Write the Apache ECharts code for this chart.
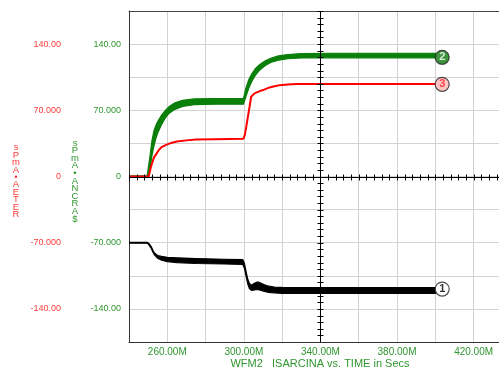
<!DOCTYPE html>
<html><head><meta charset="utf-8">
<script src="https://cdn.jsdelivr.net/npm/echarts@6/dist/echarts.min.js"></script>
<style>html,body{margin:0;padding:0;background:#fff}#c{width:499px;height:371px}</style>
</head><body><div id="c"></div>
<script>
// ---- axes ----
const xMin = 240, xMax = 438.5, xStep = 20;
const yMin = -175, yMax = 175, yStep = 35;
const xLabelValues = [260, 300, 340, 380, 420];
const yLabelValues = [-140, -70, 0, 70, 140];
const yLabelTexts = ['-140.00', '-70.000', '0', '70.000', '140.00'];
const crossX = 340, crossY = 0;
const xTitle = 'WFM2   ISARCINA vs. TIME in Secs';
const redTitle = ['s','P','m','A','\u2022','A','E','T','E','R'];
const greenTitle = ['s','P','m','A','\u2022','A','N','C','R','A','$'];

// ---- trace 2 (green): envelope ----
const greenT     = [240, 249.5, 251, 252, 253, 254, 255, 257, 259, 261, 264, 268, 274, 285, 299.8, 301, 302.5, 304, 306, 308, 311, 314, 318, 323, 330, 345, 370, 400];
const greenUpper = [0.6, 0.6, 22, 38, 48, 54, 58, 65, 70, 74, 78, 80.5, 82, 82.5, 82.5, 93, 102, 108, 114, 118, 122, 125, 127.5, 129, 130, 130.3, 130.3, 130.3];
const greenLower = [-0.6, -0.6, 8, 22, 32, 40, 46, 55, 62, 67, 71, 74, 76, 76.5, 76.5, 84, 93, 100, 107, 112, 117, 120.5, 123, 124.5, 125.3, 125.5, 125.5, 125.5];

// ---- trace 3 (red) ----
const redT = [240, 250.3, 251.5, 253, 255.6, 257, 259.4, 262, 265, 270, 275, 285, 299.8, 300.5, 301.2, 302.1, 303, 303.8, 305.6, 308, 310, 313.4, 316, 318.7, 323, 327.4, 340, 400];
const redV = [0, 0, 10.5, 20, 28, 31, 33.4, 35.5, 37, 38.2, 39, 39.5, 40, 44, 52, 63, 74, 84.3, 87.9, 90, 91.4, 94.2, 95.5, 96.6, 97.3, 97.7, 97.8, 97.8];

// ---- trace 1 (black): envelope ----
const blackT     = [240, 249.5, 250.5, 251.6, 252.5, 253.3, 255, 257, 260, 265, 275, 290, 299.4, 300.3, 301.2, 302.1, 302.9, 304, 305.5, 307.3, 309, 310.8, 313, 316, 320, 330, 360, 400];
const blackUpper = [-69.5, -69.5, -71, -74, -78, -81, -83.5, -84.5, -85.5, -86, -86.8, -87.5, -87.8, -92, -101, -109, -113, -115, -113, -111.5, -113, -114.5, -116, -117, -117.3, -117.5, -117.5, -117.5];
const blackLower = [-70.5, -70.5, -72.5, -76, -80, -83, -86.5, -88.5, -90, -91, -92, -92.5, -93, -97, -106, -114, -118.5, -120.5, -120, -119.5, -120.5, -121.5, -122.5, -123, -123.5, -123.5, -123.5, -123.5];

// ---- end markers ----
const markerLabels = ['1', '2', '3'];
const markerT = [403.6, 403.6, 403.6];
const markerV = [-119, 126, 97.5];

const FONT = 'Liberation Sans, Arial, sans-serif';
const GREEN = '#0a7f0a', RED = '#ff0000', GLABEL = '#2f962f', RLABEL = '#ff3a3a';

function bandSeries(T, up, lo, color, z) {
  return {
    type: 'custom', z: z, silent: true, clip: true,
    data: [[T[0], up[0]]],
    renderItem: function (params, api) {
      const pts = [];
      for (let i = 0; i < T.length; i++) pts.push(api.coord([T[i], up[i]]));
      for (let i = T.length - 1; i >= 0; i--) pts.push(api.coord([T[i], lo[i]]));
      return { type: 'polygon', shape: { points: pts }, style: { fill: color, stroke: color, lineWidth: 1.2 } };
    }
  };
}

const markerStyles = [
  { fill: '#ffffff', text: '#000000' },
  { fill: '#0f7a0f', text: '#ffffff' },
  { fill: '#ffb6b6', text: '#ff2020' }
];

const chart = echarts.init(document.getElementById('c'), null, { renderer: 'canvas' });
chart.setOption({
  animation: false,
  backgroundColor: '#ffffff',
  grid: { left: 129, top: 11, width: 380, height: 331, containLabel: false, outerBoundsMode: 'none' },
  xAxis: [{
    type: 'value', min: xMin, max: xMax, interval: xStep, position: 'bottom',
    axisLine: { show: true, onZero: false, lineStyle: { color: '#333', width: 1 } },
    axisTick: { show: false },
    splitLine: { show: true, lineStyle: { color: '#d2d2d2', width: 1 } },
    axisLabel: {
      margin: 5, color: GLABEL, fontSize: 10, fontFamily: FONT,
      showMinLabel: true, showMaxLabel: true, hideOverlap: false,
      formatter: function (v) { return xLabelValues.indexOf(Math.round(v * 1000) / 1000) >= 0 ? v.toFixed(2) + 'M' : ''; }
    }
  }, {
    type: 'value', min: xMin, max: xMax, interval: xStep, position: 'top',
    axisLine: { show: true, onZero: false, lineStyle: { color: '#444', width: 1 } },
    axisTick: { show: false }, axisLabel: { show: false }, splitLine: { show: false }
  }],
  yAxis: [{
    type: 'value', min: yMin, max: yMax, interval: yStep, position: 'left',
    axisLine: { show: true, onZero: false, lineStyle: { color: '#333', width: 1 } },
    axisTick: { show: false },
    splitLine: { show: true, lineStyle: { color: '#d2d2d2', width: 1 } },
    axisLabel: {
      margin: 8, color: GLABEL, fontSize: 9, fontFamily: FONT,
      formatter: function (v) { const i = yLabelValues.indexOf(v); return i >= 0 ? yLabelTexts[i] : ''; }
    }
  }, {
    type: 'value', min: yMin, max: yMax, interval: yStep, position: 'left', offset: 60,
    axisLine: { show: false }, axisTick: { show: false }, splitLine: { show: false },
    axisLabel: {
      margin: 8, color: RLABEL, fontSize: 9, fontFamily: FONT,
      formatter: function (v) { const i = yLabelValues.indexOf(v); return i >= 0 ? yLabelTexts[i] : ''; }
    }
  }],
  graphic: [
    { type: 'text', x: 16, y: 181, style: { text: redTitle.join('\n'), fill: RLABEL, font: '9.5px ' + FONT, align: 'center', verticalAlign: 'middle', lineHeight: 7.4 } },
    { type: 'text', x: 75, y: 181, style: { text: greenTitle.join('\n'), fill: GLABEL, font: '9.5px ' + FONT, align: 'center', verticalAlign: 'middle', lineHeight: 7.6 } },
    { type: 'text', x: 320, y: 364, style: { text: xTitle, fill: GLABEL, font: '11px ' + FONT, align: 'center', verticalAlign: 'middle' } }
  ],
  series: [
    bandSeries(blackT, blackUpper, blackLower, '#000000', 3),
    bandSeries(greenT, greenUpper, greenLower, GREEN, 4),
    {
      type: 'line', z: 5, silent: true, showSymbol: false, symbol: 'none',
      data: redT.map(function (t, i) { return [t, redV[i]]; }),
      lineStyle: { color: RED, width: 2 }
    },
    {
      type: 'custom', z: 8, silent: true, clip: true, data: [[crossX, crossY]],
      renderItem: function (params, api) {
        const ch = [];
        const st = { stroke: '#000', lineWidth: 1 };
        const a = api.coord([crossX, yMax]), b = api.coord([crossX, yMin]);
        const cx = Math.round(a[0]) + 0.5;
        ch.push({ type: 'line', shape: { x1: cx, y1: a[1], x2: cx, y2: b[1] }, style: st });
        for (let v = yMin; v <= yMax + 1e-6; v += yStep / 5) {
          const p = api.coord([crossX, v]); const py = Math.round(p[1]) + 0.5;
          ch.push({ type: 'line', shape: { x1: cx - 3, y1: py, x2: cx + 3, y2: py }, style: st });
        }
        const l = api.coord([xMin, crossY]), r = api.coord([xMax, crossY]);
        const cy = Math.round(l[1]) + 0.5;
        ch.push({ type: 'line', shape: { x1: l[0], y1: cy, x2: r[0], y2: cy }, style: st });
        for (let t = xMin; t <= xMax + 1e-6; t += xStep / 5) {
          const p = api.coord([t, crossY]); const px = Math.round(p[0]) + 0.5;
          ch.push({ type: 'line', shape: { x1: px, y1: cy - 3, x2: px, y2: cy + 3 }, style: st });
        }
        return { type: 'group', children: ch };
      }
    },
    {
      type: 'scatter', z: 10, silent: true, symbol: 'circle', symbolSize: 14,
      data: markerT.map(function (t, i) {
        return {
          value: [t, markerV[i]],
          itemStyle: { color: markerStyles[i].fill, borderColor: '#222', borderWidth: 1.2 },
          label: { show: true, position: 'inside', formatter: markerLabels[i], color: markerStyles[i].text, fontWeight: 'bold', fontSize: 11, fontFamily: FONT }
        };
      })
    }
  ]
});
</script>
</body></html>
